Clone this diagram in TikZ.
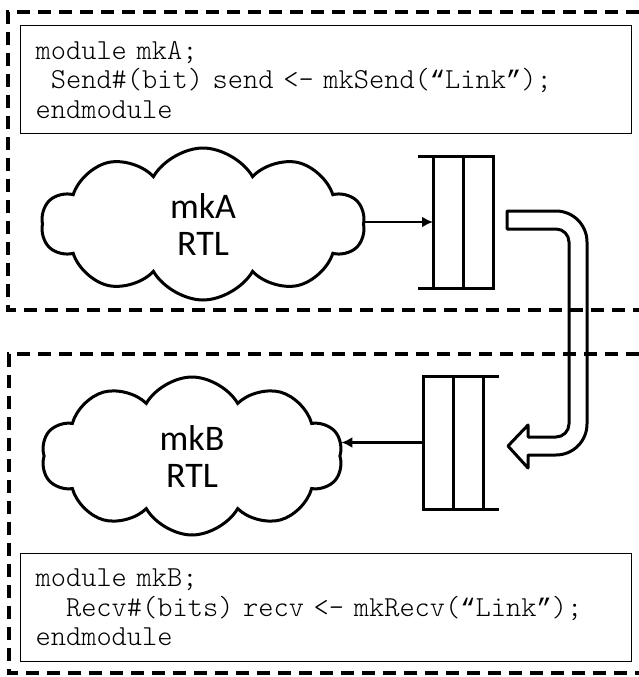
\documentclass[tikz,border=0pt]{standalone}
\usepackage{fontspec}
\setmainfont{Carlito}
\setmonofont{lmmonolt10-regular}[Extension=.otf]
\newfontfamily\quotefont{Liberation Mono}[Scale=0.875]
\newcommand{\qopen}{{\quotefont “}}
\newcommand{\qclose}{{\quotefont ”}}
\usetikzlibrary{shapes.symbols,arrows.meta,positioning}

\tikzset{
    region/.style={line width=3.2pt, dash pattern=on 13pt off 8pt},
    codebox/.style={draw, line width=1.2pt, anchor=north west, minimum height=108pt,
        text width=581pt, inner xsep=15pt, align=left,
        font=\ttfamily\fontsize{29}{29.5}\selectfont},
    rtl/.style={cloud, cloud puffs=10, cloud puff arc=120, cloud ignores aspect,
        draw, line width=3pt, inner sep=0pt, align=center,
        font=\fontsize{36}{37}\selectfont},
    fifonode/.style={minimum width=60pt, minimum height=132pt, inner sep=0pt, outer sep=0pt},
    fifo/.style={line width=3pt},
    flow/.style={line width=2.8pt, -{Latex[length=11pt,width=11pt]}}
}

\begin{document}
\begin{tikzpicture}[x=1pt, y=-1pt]
    \useasboundingbox (0,0) rectangle (639,677);

    % the two modules
    \draw[region] (639,12) -- (8,12) -- (8,310) -- (639,310);
    \draw[region] (639,354) -- (9,354) -- (9,673) -- (639,673);

    \node[codebox] (codeA) at (20,25) {module mkA;\\
        \hphantom{x}Send\#(bit) send <- mkSend(\qopen Link\qclose);\\
        endmodule};
    \node[codebox] (codeB) at (20,553) {module mkB;\\
        \hphantom{xx}Recv\#(bits) recv <- mkRecv(\qopen Link\qclose);\\
        endmodule};

    \node[rtl, minimum width=323pt, minimum height=152pt] (cloudA) at (203,224) {mkA\\RTL};
    \node[rtl, minimum width=301pt, minimum height=158pt] (cloudB) at (192,456) {mkB\\RTL};

    % fifos
    \node[fifonode] (qA) at (463,222) {};
    \draw[fifo] ([xshift=-15pt]qA.north west) -- (qA.north east) -- (qA.south east) -- ([xshift=-15pt]qA.south west);
    \foreach \a/\b in {north west/south west, north/south}
        \draw[fifo] (qA.\a) -- (qA.\b);

    \node[fifonode, minimum height=133pt] (qB) at (453,442.5) {};
    \draw[fifo] ([xshift=16pt]qB.north east) -- (qB.north west) -- (qB.south west) -- ([xshift=16pt]qB.south east);
    \foreach \a/\b in {north east/south east, north/south}
        \draw[fifo] (qB.\a) -- (qB.\b);

    \draw[flow] (cloudA.east |- qA.west) -- (qA.west);
    \draw[flow] (qB.west) -- (cloudB.east |- qB.west);

    % hollow link arrow
    \draw[line width=3pt, line join=round] (507,211) [rounded corners=31pt] -- (587,211) -- (587,455)
        [sharp corners] -- (528,455) -- (528,468) -- (508,446) -- (528,425) -- (528,437)
        [rounded corners=13pt] -- (569,437) -- (569,229) [sharp corners] -- (507,229) -- cycle;
\end{tikzpicture}
\end{document}
